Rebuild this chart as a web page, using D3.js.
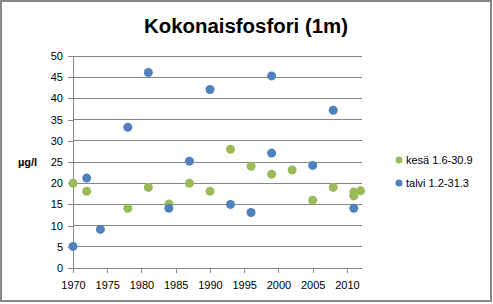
<!DOCTYPE html>
<html>
<head>
<meta charset="utf-8">
<script src="https://cdn.jsdelivr.net/npm/d3@7"></script>
<style>
  body { margin: 0; background: #fff; }
  text { font-family: "Liberation Sans", Arial, sans-serif; }
</style>
</head>
<body>
<svg id="chart" width="493" height="304"></svg>
<script>
// data
const kesaYears = [1970, 1972, 1978, 1981, 1984, 1987, 1990, 1993, 1996, 1999, 2002, 2005, 2008, 2011, 2011, 2012];
const kesaValues = [20, 18.1, 14.1, 19, 15.1, 20, 18.1, 28, 24, 22.1, 23.1, 16, 19, 17.9, 17, 18.2];
const talviYears = [1970, 1972, 1974, 1978, 1981, 1984, 1987, 1990, 1993, 1996, 1999, 1999, 2005, 2008, 2011];
const talviValues = [5.1, 21.2, 9.1, 33.2, 46.1, 14.1, 25.2, 42.1, 15, 13.1, 45.3, 27.1, 24.2, 37.2, 14.1];
const xTicks = [1970, 1975, 1980, 1985, 1990, 1995, 2000, 2005, 2010];
const yTicks = [0, 5, 10, 15, 20, 25, 30, 35, 40, 45, 50];
const seriesNames = ["kesä 1.6-30.9", "talvi 1.2-31.3"];
const seriesColors = ["#9bbb59", "#4f81bd"];

const svg = d3.select("#chart");
const gridColor = "#868686";

// outer chart border
svg.append("rect")
    .attr("x", 1).attr("y", 1)
    .attr("width", 490).attr("height", 300)
    .attr("fill", "#fff")
    .attr("stroke", "#888")
    .attr("stroke-width", 2);

const x = d3.scaleLinear().domain([1970, 2012.2]).range([73, 362]);
const y = d3.scaleLinear().domain([0, 50]).range([268, 56]);

// horizontal gridlines
svg.append("g")
    .selectAll("line")
    .data(yTicks.slice(1))
    .enter()
    .append("line")
    .attr("x1", x(1970)).attr("x2", x.range()[1])
    .attr("y1", d => y(d)).attr("y2", d => y(d))
    .attr("stroke", gridColor)
    .attr("stroke-width", 1)
    .attr("shape-rendering", "crispEdges");

// axes
const yAxis = svg.append("g")
    .attr("transform", "translate(" + x(1970) + ",0)")
    .call(d3.axisLeft(y).tickValues(yTicks).tickSize(5).tickPadding(5));
const xAxis = svg.append("g")
    .attr("transform", "translate(0," + y(0) + ")")
    .call(d3.axisBottom(x).tickValues(xTicks).tickFormat(d3.format("d")).tickSize(5).tickPadding(8));

[xAxis, yAxis].forEach(function(ax) {
  ax.select(".domain").attr("stroke", gridColor).attr("shape-rendering", "crispEdges");
  ax.selectAll(".tick line").attr("stroke", gridColor).attr("shape-rendering", "crispEdges");
  ax.selectAll("text")
      .attr("fill", "#000")
      .style("font-family", "'Liberation Sans', Arial, sans-serif")
      .style("font-size", "11px");
});
yAxis.select(".domain").attr("d", "M0," + y(0) + "V" + y(50));
xAxis.select(".domain").attr("d", "M" + x(1970) + ",0H" + x.range()[1]);

// points
const series = [
  {years: kesaYears, values: kesaValues},
  {years: talviYears, values: talviValues}
];
series.forEach(function(s, k) {
  svg.append("g")
      .selectAll("circle")
      .data(s.values)
      .enter()
      .append("circle")
      .attr("cx", (d, i) => x(s.years[i]))
      .attr("cy", d => y(d))
      .attr("r", 4.5)
      .attr("fill", seriesColors[k]);
});

// title
svg.append("text")
    .attr("x", 246).attr("y", 33)
    .attr("text-anchor", "middle")
    .attr("textLength", 204)
    .attr("lengthAdjust", "spacingAndGlyphs")
    .style("font-size", "20px")
    .style("font-weight", "bold")
    .text("Kokonaisfosfori (1m)");

// y axis unit label
svg.append("text")
    .attr("x", 18).attr("y", y(25) + 4)
    .style("font-size", "11px")
    .style("font-weight", "bold")
    .text("µg/l");

// legend
const legend = svg.append("g")
    .selectAll("g")
    .data(seriesNames)
    .enter()
    .append("g")
    .attr("transform", (d, i) => "translate(399," + (160 + i * 23) + ")");
legend.append("circle")
    .attr("r", 3.5)
    .attr("fill", (d, i) => seriesColors[i]);
legend.append("text")
    .attr("x", 7).attr("y", 4)
    .style("font-size", "11px")
    .text(d => d);
</script>
</body>
</html>
